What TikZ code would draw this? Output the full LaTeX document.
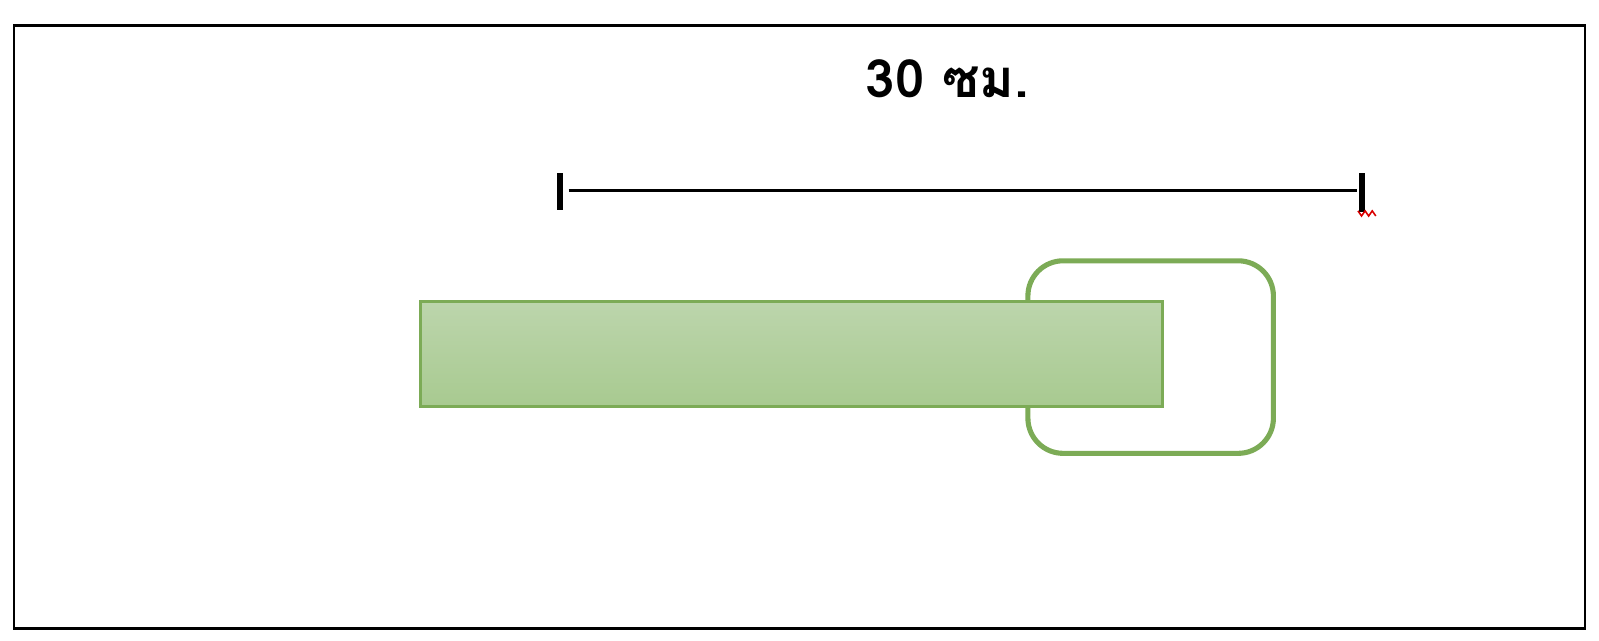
\documentclass[tikz,border=0pt]{standalone}
\usepackage{fontspec}
\newfontfamily\thaifont[Script=Thai]{Loma}
\definecolor{edgegreen}{HTML}{7CAB56}
\definecolor{topgreen}{HTML}{BCD5AC}
\definecolor{lowgreen}{HTML}{A8CA90}
\begin{document}
\begin{tikzpicture}[x=0.02037cm, y=-0.02037cm]
        % Outer frame
        \draw[line width=1.3pt] (14,25) rectangle (1556,617);

        % Length label
        \node[font=\thaifont\bfseries\fontsize{30}{36}\selectfont] (len) at (930,77) {30 ซม.};

        % Ticks and length line
        \node[fill=black, inner sep=0, minimum width=3.2pt, minimum height=21.5pt] (tickL) at (550,188) {};
        \node[fill=black, inner sep=0, minimum width=3.2pt, minimum height=22.5pt] (tickR) at (1337,189) {};
        \draw[line width=1.4pt, shorten <=3pt, shorten >=1pt] (tickL.east |- 0,187) -- (tickR.west |- 0,187);
        \draw[red!85!black, line width=0.9pt] (1333,207) -- (1336.5,212) -- (1340,207) -- (1343.5,212) -- (1347,207) -- (1350.5,212);

        % Loop behind the bar
        \draw[edgegreen, line width=2.9pt, rounded corners=20pt] (1009,256) rectangle (1250,445);

        % Green bar
        \draw[edgegreen, line width=1.5pt, top color=topgreen, bottom color=lowgreen] (413,296) rectangle (1141,399);

        \pgfresetboundingbox
        \useasboundingbox (0,0) rectangle (1569.6,628.3);
    \end{tikzpicture}
\end{document}
